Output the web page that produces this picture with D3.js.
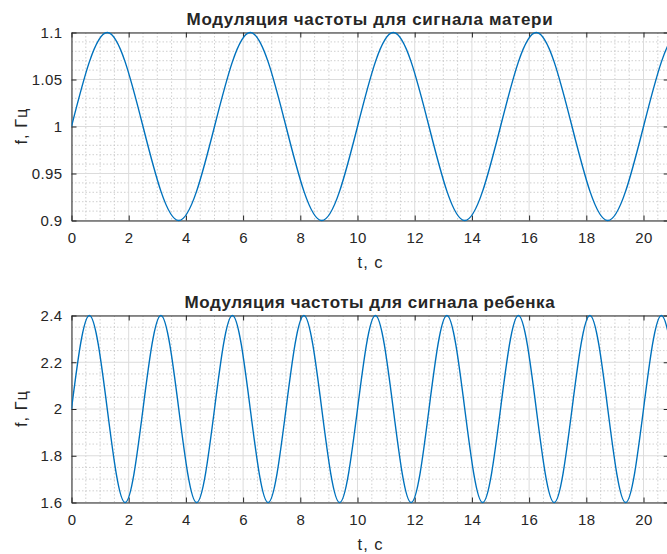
<!DOCTYPE html>
<html>
<head>
<meta charset="utf-8">
<script src="https://cdn.jsdelivr.net/npm/d3@7/dist/d3.min.js"></script>
<style>
  html, body { margin: 0; padding: 0; background: #fff; }
  svg { display: block; }
  text { font-family: "Liberation Sans", Arial, Helvetica, sans-serif; fill: #262626; }
</style>
</head>
<body>
<svg id="chart" width="667" height="554"></svg>
<script>
// Frequency modulation of the mother's signal: time (s) at each quarter period and frequency (Hz)
const motherTime = [0, 1.25, 2.5, 3.75, 5, 6.25, 7.5, 8.75, 10, 11.25, 12.5, 13.75, 15, 16.25, 17.5, 18.75, 20, 21.25, 22.5];
const motherFreq = [1, 1.1, 1, 0.9, 1, 1.1, 1, 0.9, 1, 1.1, 1, 0.9, 1, 1.1, 1, 0.9, 1, 1.1, 1];

// Frequency modulation of the child's signal
const childTime = [0, 0.625, 1.25, 1.875, 2.5, 3.125, 3.75, 4.375, 5, 5.625, 6.25, 6.875, 7.5, 8.125, 8.75, 9.375,
  10, 10.625, 11.25, 11.875, 12.5, 13.125, 13.75, 14.375, 15, 15.625, 16.25, 16.875, 17.5, 18.125, 18.75, 19.375,
  20, 20.625, 21.25, 21.875, 22.5];
const childFreq = [2, 2.4, 2, 1.6, 2, 2.4, 2, 1.6, 2, 2.4, 2, 1.6, 2, 2.4, 2, 1.6,
  2, 2.4, 2, 1.6, 2, 2.4, 2, 1.6, 2, 2.4, 2, 1.6, 2, 2.4, 2, 1.6,
  2, 2.4, 2, 1.6, 2];

const xTicks = [0, 2, 4, 6, 8, 10, 12, 14, 16, 18, 20];
const motherYTicks = [0.9, 0.95, 1, 1.05, 1.1];
const childYTicks = [1.6, 1.8, 2, 2.2, 2.4];

const titles = ["Модуляция частоты для сигнала матери", "Модуляция частоты для сигнала ребенка"];
const xLabel = "t, c";
const yLabel = "f, Гц";

const svg = d3.select("#chart");
const lineColor = "#0072BD";
const axisColor = "#262626";

const panels = [
  { time: motherTime, freq: motherFreq, yDomain: [0.9, 1.1], yTicks: motherYTicks, yMinorStep: 0.01,
    title: titles[0], titleLen: 366, top: 32.5, bottom: 220.5 },
  { time: childTime, freq: childFreq, yDomain: [1.6, 2.4], yTicks: childYTicks, yMinorStep: 0.05,
    title: titles[1], titleLen: 370, top: 315.5, bottom: 502.5 }
];

const left = 71.5, right = 668.7;
const xMax = 20.88;

panels.forEach((p, i) => {
  const g = svg.append("g");
  const x = d3.scaleLinear().domain([0, xMax]).range([left, right]);
  const y = d3.scaleLinear().domain(p.yDomain).range([p.bottom, p.top]);

  // minor grid (dotted)
  const xMinor = d3.range(0, xMax + 1e-9, 0.5).filter(v => Math.abs(v / 2 - Math.round(v / 2)) > 1e-6);
  const yMinor = d3.range(p.yDomain[0], p.yDomain[1] + 1e-9, p.yMinorStep)
    .filter(v => !p.yTicks.some(t => Math.abs(t - v) < 1e-6));
  g.append("g").selectAll("line").data(xMinor).join("line")
    .attr("x1", d => x(d)).attr("x2", d => x(d)).attr("y1", p.top).attr("y2", p.bottom)
    .attr("stroke", "#c4c4c4").attr("stroke-width", 0.8).attr("stroke-dasharray", "1.5,2");
  g.append("g").selectAll("line").data(yMinor).join("line")
    .attr("x1", left).attr("x2", right).attr("y1", d => y(d)).attr("y2", d => y(d))
    .attr("stroke", "#c4c4c4").attr("stroke-width", 0.8).attr("stroke-dasharray", "1.5,2");

  // major grid
  g.append("g").selectAll("line").data(xTicks).join("line")
    .attr("x1", d => x(d)).attr("x2", d => x(d)).attr("y1", p.top).attr("y2", p.bottom)
    .attr("stroke", "#dcdcdc").attr("stroke-width", 1);
  g.append("g").selectAll("line").data(p.yTicks).join("line")
    .attr("x1", left).attr("x2", right).attr("y1", d => y(d)).attr("y2", d => y(d))
    .attr("stroke", "#dcdcdc").attr("stroke-width", 1);

  // axes with inward ticks
  const axB = g.append("g").attr("transform", `translate(0,${p.bottom})`)
    .call(d3.axisBottom(x).tickValues(xTicks).tickSizeInner(-5).tickSizeOuter(0).tickPadding(12).tickFormat(d3.format("d")));
  const axT = g.append("g").attr("transform", `translate(0,${p.top})`)
    .call(d3.axisTop(x).tickValues(xTicks).tickSizeInner(-5).tickSizeOuter(0).tickFormat(""));
  const axL = g.append("g").attr("transform", `translate(${left},0)`)
    .call(d3.axisLeft(y).tickValues(p.yTicks).tickSizeInner(-5).tickSizeOuter(0).tickPadding(9).tickFormat(d => String(d)));
  const axR = g.append("g").attr("transform", `translate(${right},0)`)
    .call(d3.axisRight(y).tickValues(p.yTicks).tickSizeInner(-5).tickSizeOuter(0).tickFormat(""));
  [axB, axT, axL, axR].forEach(a => {
    a.select(".domain").attr("stroke", axisColor).attr("stroke-width", 1);
    a.selectAll(".tick line").attr("stroke", axisColor).attr("stroke-width", 1);
    a.selectAll("text").attr("font-size", 15).attr("fill", axisColor).attr("letter-spacing", 0.4)
      .attr("font-family", "'Liberation Sans', Arial, Helvetica, sans-serif");
  });
  axB.selectAll("text").attr("dy", "0.71em");

  // data curve
  const clipId = "clip" + i;
  svg.append("clipPath").attr("id", clipId).append("rect")
    .attr("x", left).attr("y", p.top - 3).attr("width", right - left).attr("height", p.bottom - p.top + 6);
  const line = d3.line().x((d, k) => x(p.time[k])).y(d => y(d)).curve(d3.curveNatural);
  g.append("path").datum(p.freq).attr("clip-path", `url(#${clipId})`)
    .attr("d", line).attr("fill", "none").attr("stroke", lineColor).attr("stroke-width", 1.4);

  // title and labels
  g.append("text").attr("x", (left + right) / 2 - 0.5).attr("y", p.top - 7.5)
    .attr("text-anchor", "middle").attr("font-size", 17).attr("font-weight", "bold")
    .attr("textLength", p.titleLen).attr("lengthAdjust", "spacing")
    .attr("fill", "#000").text(p.title);
  g.append("text").attr("x", (left + right) / 2).attr("y", p.bottom + 47)
    .attr("text-anchor", "middle").attr("font-size", 16.5)
    .attr("textLength", 25).attr("lengthAdjust", "spacing").text(xLabel);
  g.append("text").attr("transform", `translate(27,${(p.top + p.bottom) / 2}) rotate(-90)`)
    .attr("text-anchor", "middle").attr("font-size", 16.5)
    .attr("textLength", 36).attr("lengthAdjust", "spacing").text(yLabel);
});
</script>
</body>
</html>
